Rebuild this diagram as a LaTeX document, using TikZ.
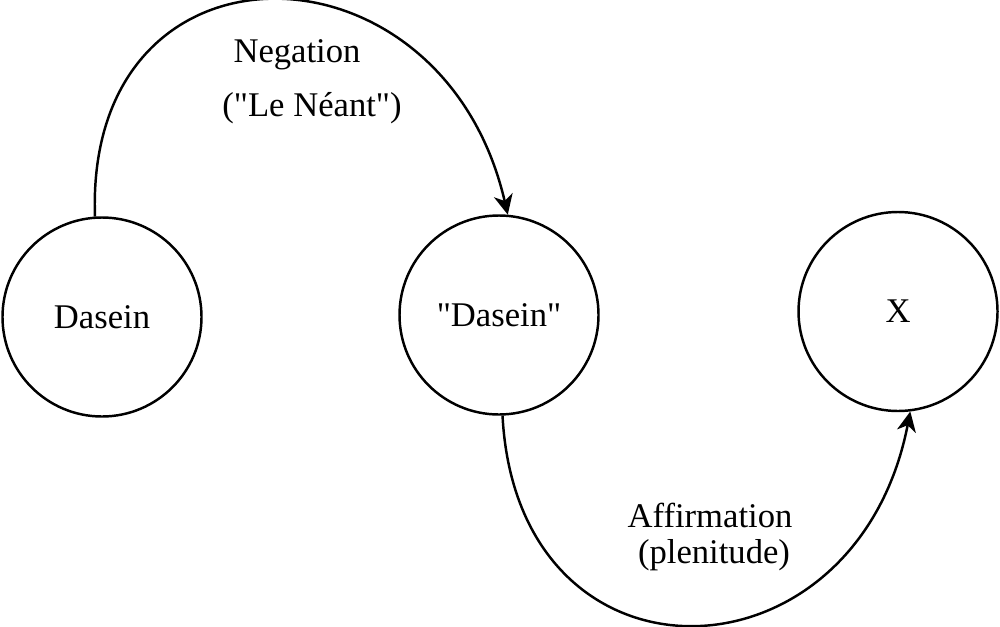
\documentclass[tikz,border=0pt]{standalone}
\usepackage{fontspec}
\setmainfont{Liberation Serif}
\usetikzlibrary{arrows.meta}

\begin{document}
\begin{tikzpicture}[
  every node/.style={font=\fontsize{9.85}{12}\selectfont},
  ring/.style={draw,circle,line width=0.7pt,minimum size=1.99cm,inner sep=0pt},
  flow/.style={line width=0.7pt,-{Stealth[length=2mm,width=1.9mm,inset=0.6mm]}}
]
\useasboundingbox (0,0) rectangle (10,6.26);
%\draw[help lines] (0,0) grid (10,6);

\node[ring] (dasein) at (1.02,3.09) {Dasein};
\node[ring] (quoted) at (4.99,3.11) {\textquotedbl Dasein\textquotedbl};
\node[ring] (x) at (8.98,3.145) {X};

\draw[flow] (dasein.94) to[out=92,in=103,looseness=1.8] (quoted.85);
\node (neg) at (2.97,5.71) {Negation};
\node (neant) at (3.12,5.18) {(\textquotedbl Le Néant\textquotedbl)};

\draw[flow] (quoted.272) to[out=-87,in=-101,looseness=1.78] (x.277);
\node (aff) at (7.10,1.11) {Affirmation};
\node (plen) at (7.14,0.71) {(plenitude)};
\end{tikzpicture}
\end{document}
